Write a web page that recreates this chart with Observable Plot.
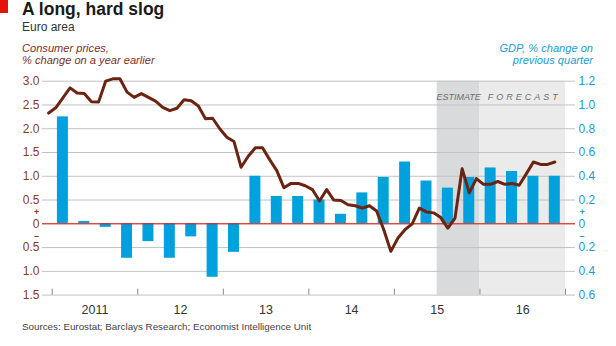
<!DOCTYPE html>
<html><head><meta charset="utf-8">
<script src="https://cdn.jsdelivr.net/npm/d3@7"></script>
<script src="https://cdn.jsdelivr.net/npm/@observablehq/plot@0.6"></script>
<style>
body{margin:0;background:#fff;}
#wrap{position:relative;width:616px;height:346px;overflow:hidden;background:#fff;font-family:"Liberation Sans Narrow","Liberation Sans",sans-serif;}
.t{position:absolute;white-space:nowrap;}
#chart{position:absolute;left:0;top:70px;}
</style></head><body>
<div id="wrap">
  <div style="position:absolute;left:0;top:0;width:8px;height:13px;background:#e3120b"></div>
  <div class="t" style="left:22px;top:-1px;font-size:17.5px;line-height:20px;font-weight:bold;color:#1a1a1a">A long, hard slog</div>
  <div class="t" style="left:22px;top:20px;font-size:12px;line-height:14px;color:#333">Euro area</div>
  <div class="t" style="left:22px;top:43px;font-size:11.1px;line-height:11.5px;font-style:italic;color:#7e2f1c">Consumer prices,<br>% change on a year earlier</div>
  <div class="t" style="right:23px;top:43px;font-size:11.1px;line-height:11.5px;font-style:italic;color:#1d9ad6;text-align:right">GDP, % change on<br>previous quarter</div>
  <div id="chart"></div>
  <div class="t" style="left:22px;top:321px;font-size:9.8px;line-height:12px;color:#444">Sources: Eurostat; Barclays Research; Economist Intelligence Unit</div>
</div>
<script>
// Consumer prices, % change on a year earlier, monthly Dec 2010 - Nov 2016
const cpiFirstMonth = {year: 2010, month: 12};
const cpi = [
  2.33,
  2.44, 2.65, 2.86, 2.75, 2.74, 2.57, 2.56, 3.00, 3.05, 3.05, 2.77, 2.66,
  2.74, 2.66, 2.58, 2.45, 2.38, 2.43, 2.61, 2.59, 2.48, 2.21, 2.22, 2.00,
  1.82, 1.73, 1.19, 1.42, 1.60, 1.60, 1.35, 1.12, 0.76, 0.85, 0.85, 0.80,
  0.72, 0.48, 0.72, 0.50, 0.49, 0.40, 0.38, 0.33, 0.38, 0.27, -0.12, -0.58,
  -0.30, -0.12, 0.00, 0.33, 0.25, 0.23, 0.13, -0.09, 0.12, 1.16, 0.65, 0.95,
  0.83, 0.83, 0.89, 0.83, 0.85, 0.81, 1.05, 1.30, 1.25, 1.25, 1.30
];
// GDP, % change on previous quarter, 2011 Q1 - 2016 Q4
const gdpFirstYear = 2011;
const gdp = [
  0.90, 0.02, -0.03, -0.29,
  -0.15, -0.29, -0.11, -0.45,
  -0.24, 0.40, 0.23, 0.23,
  0.20, 0.08, 0.26, 0.39,
  0.52, 0.36, 0.30, 0.39,
  0.47, 0.44, 0.40, 0.40
];
// shaded periods
const periodLabels = ["ESTIMATE", "FORECAST"];
const periodStart = [2015.5, 2016];
const periodEnd = [2016, 2017];
const periodFill = ["#d9dadc", "#ebebec"];
// axes
const yTicks = [-1.5, -1, -0.5, 0, 0.5, 1, 1.5, 2, 2.5, 3];
const leftTickLabels = ["1.5", "1.0", "0.5", "0", "0.5", "1.0", "1.5", "2.0", "2.5", "3.0"];
const rightTickLabels = ["0.6", "0.4", "0.2", "0", "0.2", "0.4", "0.6", "0.8", "1.0", "1.2"];
const signLabels = ["+", "–"];
const yearStarts = [2011, 2012, 2013, 2014, 2015, 2016, 2017];
const yearLabelPos = [2011.5, 2012.5, 2013.5, 2014.5, 2015.5, 2016.5];
const yearLabels = ["2011", "12", "13", "14", "15", "16"];

const leftMax = 3.0, rightMax = 1.2, gdpToLeft = leftMax / rightMax;

const lineData = cpi.map((v, i) => ({t: cpiFirstMonth.year + (cpiFirstMonth.month - 1 + i + 0.5) / 12, v}));
const barData = gdp.map((v, i) => ({t0: gdpFirstYear + i / 4, t1: gdpFirstYear + (i + 1) / 4, v: v * gdpToLeft}));
const periods = periodLabels.map((label, i) => ({label, from: periodStart[i], to: periodEnd[i], fill: periodFill[i]}));
const signs = signLabels.map((s, i) => ({s, off: i === 0 ? -11.9 : 12}));

const leftColor = "#8b3a22", rightColor = "#1d9ad6";
const yDomain = [-1.5, 3.0];
const signMarks = (anchor, dx, fill) => signs.map(d => Plot.text([d], {y: () => 0, text: "s", frameAnchor: anchor,
  dx, dy: d.off, textAnchor: "middle", fontSize: 9, fontWeight: "bold", fill}));

const chart = Plot.plot({
  width: 616, height: 250,
  marginLeft: 42, marginRight: 41, marginTop: 10.7, marginBottom: 25.4,
  x: {type: "linear", domain: [2010.8866, 2017.1169], label: null},
  y: {domain: yDomain, label: null},
  style: {fontFamily: "'Liberation Sans Narrow','Liberation Sans',sans-serif", fontSize: "12px", background: "transparent", overflow: "visible"},
  marks: [
    Plot.rectY(periods, {x1: "from", x2: "to", y1: yDomain[0], y2: yDomain[1], fill: "fill"}),
    Plot.gridY(yTicks, {stroke: "#c2c2c2", strokeOpacity: 1, strokeWidth: 1}),
    Plot.axisY(yTicks, {anchor: "left", label: null, tickSize: 0, tickPadding: 3, fontSize: 12,
      tickFormat: d => leftTickLabels[yTicks.indexOf(d)], color: leftColor}),
    Plot.axisY(yTicks, {anchor: "right", label: null, tickSize: 0, tickPadding: 3, fontSize: 12,
      tickFormat: d => rightTickLabels[yTicks.indexOf(d)], color: rightColor}),
    ...signMarks("left", -6, leftColor),
    ...signMarks("right", 6.5, rightColor),
    Plot.axisX(yearStarts, {anchor: "bottom", label: null, tickSize: -6, tickFormat: () => "", stroke: "#8a8a8a"}),
    Plot.axisX(yearLabelPos, {anchor: "bottom", label: null, tickSize: 0, tickPadding: 10, fontSize: 12.5,
      tickFormat: d => yearLabels[yearLabelPos.indexOf(d)], color: "#333"}),
    Plot.rectY(barData, {x1: "t0", x2: "t1", y: "v", insetLeft: 5.2, insetRight: 5.2, fill: "#00a1dc"}),
    Plot.ruleY([0], {stroke: "#e3120b", strokeWidth: 1}),
    Plot.lineY(lineData, {x: "t", y: "v", stroke: "#6b2412", strokeWidth: 3, strokeLinejoin: "round", strokeLinecap: "round"}),
    Plot.text(periods, {x: d => (d.from + d.to) / 2, text: "label", frameAnchor: "top", dy: 12.5,
      fontSize: 9, fontStyle: "italic", fill: "#6d6e70"})
  ]
});
d3.select(chart).selectAll("text").filter(function() { return this.textContent === periodLabels[1]; })
  .attr("letter-spacing", "3px").attr("dx", "1.5");
document.getElementById("chart").appendChild(chart);
</script>
</body></html>
